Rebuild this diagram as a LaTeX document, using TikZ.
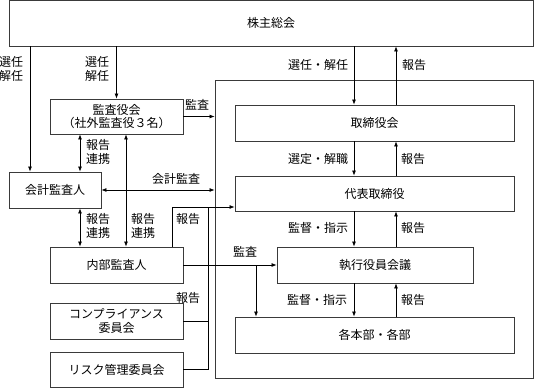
\documentclass[tikz,border=0pt]{standalone}
\usepackage{fontspec}
\setmainfont{Noto Sans CJK JP}
\usetikzlibrary{arrows.meta,positioning}
\definecolor{boxLine}{HTML}{3A3A3A}

\begin{document}
\begin{tikzpicture}[x=1pt,y=-1pt,font=\fontsize{12}{13.5}\selectfont,
      bx/.style={draw=boxLine,line width=0.9pt,inner sep=0pt,align=center},
      lbl/.style={inner sep=0pt,align=center},
      arr/.style={-{Latex[length=5pt,width=4pt]},line width=0.7pt},
      darr/.style={{Latex[length=5pt,width=4pt]}-{Latex[length=5pt,width=4pt]},line width=0.7pt},
      ln/.style={line width=0.7pt}]

  \useasboundingbox (0,0) rectangle (534,388);

  % boxes
  \node[bx,minimum width=318pt,minimum height=298pt] (frame) at (374,229) {};
  \node[bx,minimum width=524pt,minimum height=45.5pt] (soukai) at (271,23.25) {株主総会};
  \node[bx,minimum width=133pt,minimum height=35pt] (kansayaku) at (116.5,116.5) {監査役会\\[0pt]（社外監査役３名）};
  \node[bx,minimum width=92pt,minimum height=36pt] (kaikei) at (55,190) {会計監査人};
  \node[bx,minimum width=133pt,minimum height=36pt] (naibu) at (116.5,265) {内部監査人};
  \node[bx,minimum width=133pt,minimum height=36pt] (comp) at (116.5,321) {コンプライアンス\\委員会};
  \node[bx,minimum width=133pt,minimum height=35pt] (risk) at (116.5,369.5) {リスク管理委員会};
  \node[bx,minimum width=279pt,minimum height=36pt] (torishimari) at (374.5,123) {取締役会};
  \node[bx,minimum width=279pt,minimum height=35pt] (daihyo) at (374.5,193.5) {代表取締役};
  \node[bx,minimum width=196pt,minimum height=36pt] (shikko) at (375,265) {執行役員会議};
  \node[bx,minimum width=279pt,minimum height=36pt] (kakubu) at (374.5,335) {各本部・各部};

  % routing points
  \coordinate (xL) at (30,0);
  \coordinate (xA) at (80,0);
  \coordinate (xB) at (126,0);
  \coordinate (rep) at (172,207);
  \coordinate (vR) at (208,0);
  \coordinate (xD) at (256,0);
  \coordinate (xE) at (354,0);
  \coordinate (xF) at (396,0);

  % left side
  \draw[arr] (soukai.south -| xL) -- (kaikei.north -| xL);
  \draw[arr] (soukai.south -| kansayaku.north) -- (kansayaku.north);
  \draw[arr] (kansayaku.east) -- (kansayaku.east -| frame.west);
  \draw[darr] (kansayaku.south -| xA) -- (kaikei.north -| xA);
  \draw[darr] (kaikei.south -| xA) -- (naibu.north -| xA);
  \draw[darr] (kansayaku.south -| xB) -- (naibu.north -| xB);
  \draw[darr] (kaikei.east) -- (kaikei.east -| frame.west);
  \draw[arr] (naibu.north -| rep) -- (rep) -- (rep -| daihyo.west);
  \draw[ln] (comp.east) -- (comp.east -| vR);
  \draw[ln] (risk.east) -- (risk.east -| vR) -- (vR |- rep);
  \draw[arr] (naibu.east) -- (shikko.west);
  \draw[arr] (naibu.east -| xD) -- (kakubu.north -| xD);

  % right side
  \draw[arr] (soukai.south -| xE) -- (torishimari.north -| xE);
  \draw[arr] (torishimari.north -| xF) -- (soukai.south -| xF);
  \foreach \a/\b in {torishimari/daihyo,daihyo/shikko,shikko/kakubu}{
    \draw[arr] (\a.south -| xE) -- (\b.north -| xE);
    \draw[arr] (\b.north -| xF) -- (\a.south -| xF);
  }

  % labels
  \node[lbl] (l1) at (11,69) {選任\\解任};
  \node[lbl] (l2) at (97,69) {選任\\解任};
  \node[lbl] (l3) at (197,105) {監査};
  \node[lbl] (l4) at (98,152) {報告\\連携};
  \node[lbl] (l5) at (176,179) {会計監査};
  \node[lbl] (l6) at (98,226) {報告\\連携};
  \node[lbl] (l7) at (143,226) {報告\\連携};
  \node[lbl] (l8) at (188,219) {報告};
  \node[lbl] (l9) at (245,252) {監査};
  \node[lbl] (l10) at (188,298) {報告};
  \node[lbl] (l11) at (318,65) {選任・解任};
  \node[lbl] (l12) at (414,65) {報告};
  \node[lbl] (l13) at (318,159) {選定・解職};
  \node[lbl] (l14) at (413,159) {報告};
  \node[lbl] (l15) at (318,228) {監督・指示};
  \node[lbl] (l16) at (413,228) {報告};
  \node[lbl] (l17) at (317,300) {監督・指示};
  \node[lbl] (l18) at (413,300) {報告};
\end{tikzpicture}
\end{document}
